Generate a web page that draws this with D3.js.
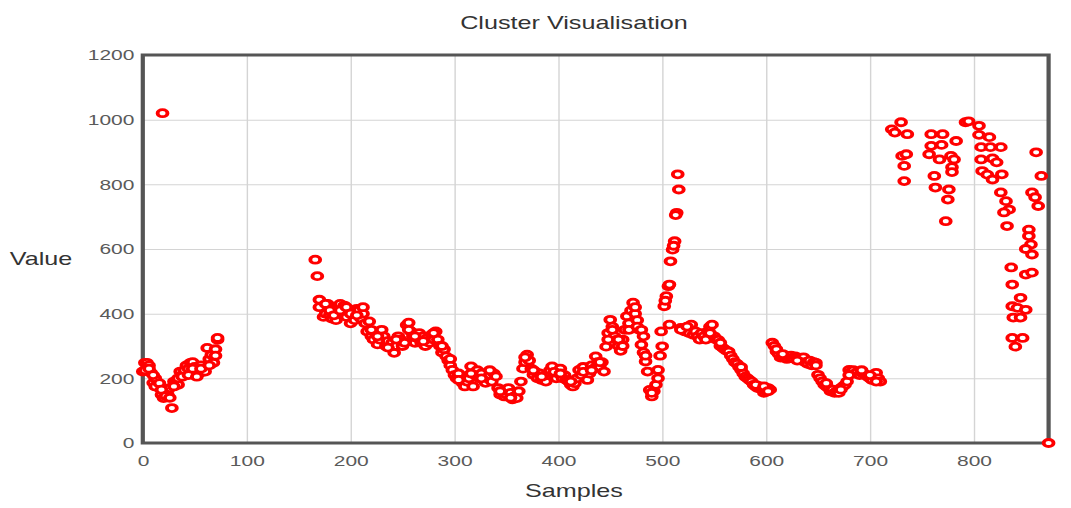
<!DOCTYPE html>
<html>
<head>
<meta charset="utf-8">
<script src="https://cdn.jsdelivr.net/npm/d3@7"></script>
<style>
  body { margin: 0; background: #fff; }
  svg { display: block; }
  text { font-family: "Liberation Sans", Arial, sans-serif; }
</style>
</head>
<body>
<script>
// sample values (runs are every 2nd sample)
const sampleStep = 2;
const firstRunStart = 0;
const firstRun = [
  221, 248, 248, 240, 217, 186, 200, 180, 170, 149,
  139, 160, 150, 170, 108, 190, 185, 180, 221, 210,
  225, 240, 230, 248, 250, 235, 226, 215, 240, 221,
  221, 294, 260, 273, 248, 290, 319
];
const secondRunStart = 166;
const secondRun = [
  567, 516, 443, 420, 390, 400, 430, 395, 385, 410,
  380, 420, 430, 400, 425, 390, 410, 370, 395, 380,
  415, 410, 385, 400, 370, 345, 376, 330, 320, 340,
  305, 320, 350, 330, 300, 315, 295, 310, 279, 300,
  330, 320, 300, 310, 365, 372, 345, 330, 310, 325,
  340, 310, 330, 300, 325, 310, 335, 320, 345, 320,
  300, 280, 290, 268, 255, 240, 226, 210, 200, 215,
  195, 185, 175, 190, 200, 237, 175, 210, 225, 200,
  215, 195, 186, 200, 210, 190, 215, 206, 170, 150,
  160, 144, 150, 170, 155, 135, 145, 139, 160, 190,
  230, 250, 273, 255, 230, 211, 220, 200, 215, 195,
  205, 190, 210, 225, 237, 210, 200, 215, 230, 200,
  210, 195, 190, 180, 175, 185, 200, 226, 210, 235,
  220, 195, 215, 240, 230, 268, 250, 235, 250, 221,
  298, 340, 381, 360, 330, 319, 300, 285, 320, 350,
  392, 370, 410, 434, 400, 380, 350, 304, 280, 252,
  221, 164, 144, 160, 180, 226, 270, 299, 423, 454,
  485, 562, 598, 624, 712, 784, 356, 350, 345, 355,
  340, 366, 335, 345, 330, 320, 340, 330, 320, 345,
  360, 366, 330, 320, 319, 300, 295, 290, 285, 283,
  270, 260, 250, 245, 235, 226, 215, 205, 200, 195,
  190, 180, 175, 170, 175, 165, 155, 160, 170, 165,
  310, 300, 283, 275, 264, 268, 270, 260, 265, 270,
  262, 268, 265, 260, 255, 265, 250, 245, 255, 240,
  250, 248, 211, 200, 190, 180, 175, 170, 160, 165,
  155, 160, 155, 170, 175, 180, 190, 226, 220, 225,
  215, 220, 210, 217, 215, 210, 205, 200, 195, 210,
  217, 200, 190
];
// [sample, value] points that sit on top of the runs
const extraPoints = [
  [2, 225], [6, 230], [10, 210], [12, 175], [16, 185], [18, 165], [22, 145], [26, 140],
  [30, 175], [34, 200], [38, 205], [44, 210], [48, 230], [52, 205], [56, 230], [64, 240],
  [70, 270], [72, 325], [170, 420], [176, 430], [180, 410], [184, 395], [190, 410],
  [196, 420], [200, 400], [206, 395], [212, 420], [220, 350], [226, 330], [236, 295],
  [244, 320], [256, 350], [262, 330], [270, 315], [280, 340], [288, 300], [296, 260],
  [304, 195], [316, 215], [326, 200], [334, 225], [344, 160], [354, 140], [368, 265],
  [376, 225], [384, 205], [396, 220], [402, 215], [412, 190], [424, 220], [432, 225],
  [440, 250], [448, 320], [452, 350], [458, 320], [462, 300], [468, 350], [474, 420],
  [476, 360], [480, 350], [482, 330], [484, 270], [490, 155], [496, 200], [499, 345],
  [503, 440], [507, 366], [507, 490], [511, 610], [513, 705], [515, 831], [518, 350],
  [524, 360], [546, 340], [556, 310], [576, 235], [590, 180], [598, 175], [602, 160],
  [610, 290], [616, 275], [630, 255], [648, 240], [658, 185], [672, 165], [680, 210],
  [692, 225], [700, 210], [706, 190]
];
const highCluster = [
  [721, 970], [724, 960], [730, 992], [736, 955], [731, 888], [735, 893], [733, 857], [733, 810],
  [759, 955], [770, 955], [759, 919], [769, 922], [783, 934], [757, 893], [767, 877],
  [778, 888], [781, 877], [779, 853], [779, 838], [762, 826], [763, 790], [776, 784],
  [775, 753], [773, 686], [792, 992], [795, 995], [805, 981], [805, 953], [815, 946],
  [807, 915], [816, 915], [826, 915], [807, 877], [818, 880], [822, 868], [808, 841],
  [813, 830], [818, 815], [827, 831], [826, 775], [831, 748], [834, 722], [829, 713],
  [832, 671], [836, 543], [837, 490], [845, 449], [837, 423], [842, 418], [850, 412],
  [838, 388], [845, 388], [837, 325], [840, 298], [847, 325], [860, 899], [865, 826],
  [856, 775], [859, 760], [862, 733], [853, 660], [853, 640], [855, 614], [850, 600],
  [856, 583], [850, 521], [856, 527]
];
const outliers = [[19, 1020], [872, 0]];
const xTicks = [0, 100, 200, 300, 400, 500, 600, 700, 800];
const yTicks = [0, 200, 400, 600, 800, 1000, 1200];

const points = [
  ...firstRun.map((v, i) => [firstRunStart + i * sampleStep, v]),
  ...secondRun.map((v, i) => [secondRunStart + i * sampleStep, v]),
  ...extraPoints,
  ...highCluster,
  ...outliers
];

// the original picture is stretched sideways, so draw in a narrow box and stretch it
const width = 765, height = 508;
const plotLeft = 102, plotRight = 749, plotTop = 55, plotBottom = 443;

const svg = d3
  .select("body")
  .append("svg")
  .attr("width", 1071)
  .attr("height", 508)
  .attr("viewBox", `0 0 ${width} ${height}`)
  .attr("preserveAspectRatio", "none");

const xScale = d3.scaleLinear().domain([0, 872]).range([plotLeft, plotRight]);
const yScale = d3.scaleLinear().domain([0, 1200]).range([plotBottom, plotTop]);

// grid
svg
  .append("g")
  .attr("transform", `translate(0,${plotBottom})`)
  .call(d3.axisBottom(xScale).tickValues(xTicks).tickSize(-(plotBottom - plotTop)).tickFormat(""))
  .call((g) => g.select(".domain").remove())
  .selectAll("line")
  .attr("stroke", "#d4d4d4");
svg
  .append("g")
  .attr("transform", `translate(${plotLeft},0)`)
  .call(d3.axisLeft(yScale).tickValues(yTicks).tickSize(-(plotRight - plotLeft)).tickFormat(""))
  .call((g) => g.select(".domain").remove())
  .selectAll("line")
  .attr("stroke", "#d4d4d4");

// tick labels
const xAxis = svg
  .append("g")
  .attr("transform", `translate(0,${plotBottom})`)
  .call(d3.axisBottom(xScale).tickValues(xTicks).tickFormat(d3.format("d")).tickSize(0).tickPadding(12));
const yAxis = svg
  .append("g")
  .attr("transform", `translate(${plotLeft},0)`)
  .call(d3.axisLeft(yScale).tickValues(yTicks).tickFormat(d3.format("d")).tickSize(0).tickPadding(6));
[xAxis, yAxis].forEach((g) => {
  g.select(".domain").remove();
  g.selectAll("text")
    .attr("fill", "#5a5a5a")
    .style("font-size", "15px")
    .style("font-family", '"Liberation Sans", Arial, sans-serif');
});

// frame
svg
  .append("rect")
  .attr("x", plotLeft)
  .attr("y", plotTop)
  .attr("width", plotRight - plotLeft)
  .attr("height", plotBottom - plotTop)
  .attr("fill", "none")
  .attr("stroke", "#555")
  .attr("stroke-width", 3);

svg
  .append("g")
  .selectAll("circle")
  .data(points)
  .enter()
  .append("circle")
  .attr("cx", (d) => xScale(d[0]))
  .attr("cy", (d) => yScale(d[1]))
  .attr("r", 3.5)
  .attr("fill", "#fff")
  .attr("stroke", "#ff0000")
  .attr("stroke-width", 2.8);

// titles
svg
  .append("text")
  .attr("x", 410)
  .attr("y", 29)
  .attr("text-anchor", "middle")
  .attr("fill", "#333")
  .style("font-size", "18px")
  .text("Cluster Visualisation");
svg
  .append("text")
  .attr("x", 410)
  .attr("y", 497)
  .attr("text-anchor", "middle")
  .attr("fill", "#333")
  .style("font-size", "18px")
  .text("Samples");
svg
  .append("text")
  .attr("x", 7)
  .attr("y", 265)
  .attr("fill", "#333")
  .style("font-size", "18px")
  .text("Value");
</script>
</body>
</html>
